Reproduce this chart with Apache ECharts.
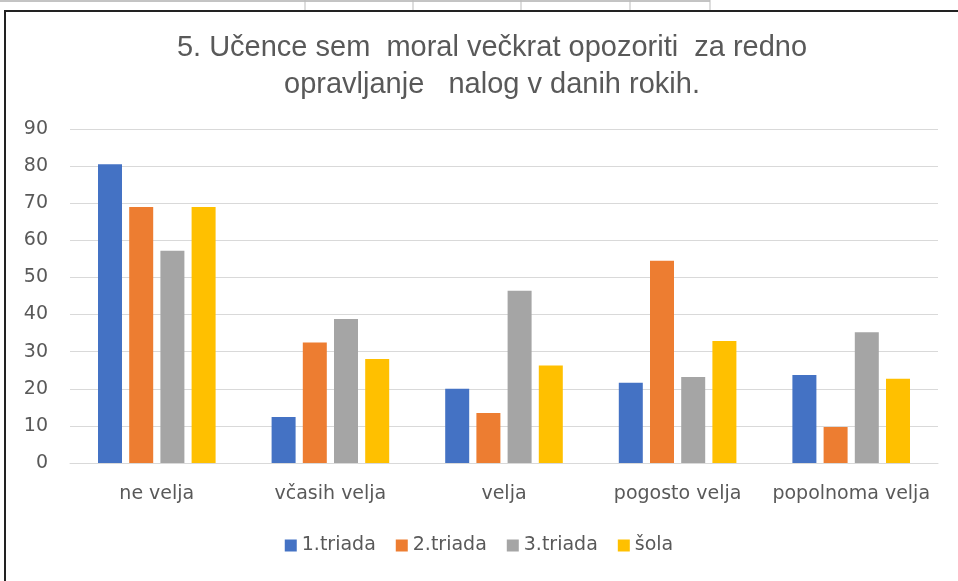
<!DOCTYPE html>
<html>
<head>
<meta charset="utf-8">
<script src="https://cdn.jsdelivr.net/npm/echarts@6/dist/echarts.min.js"></script>
<style>
  html, body { margin: 0; padding: 0; background: #fff; }
  #main { width: 958px; height: 581px; }
</style>
</head>
<body>
<div id="main"></div>
<script>
var categories = ['ne velja', 'včasih velja', 'velja', 'pogosto velja', 'popolnoma velja'];
var seriesNames = ['1.triada', '2.triada', '3.triada', 'šola'];
var triada1 = [80.5, 12.4, 20.0, 21.6, 23.7];
var triada2 = [69.0, 32.5, 13.5, 54.5, 9.7];
var triada3 = [57.2, 38.8, 46.4, 23.2, 35.2];
var sola = [69.0, 28.0, 26.3, 32.9, 22.7];
var colors = ['#4472C4', '#ED7D31', '#A5A5A5', '#FFC000'];

var titleFont = '"Liberation Sans", Arial, sans-serif';
var font = '"DejaVu Sans", Verdana, sans-serif';
var myChart = echarts.init(document.getElementById('main'));

var allData = [triada1, triada2, triada3, sola];
var series = [];
for (var i = 0; i < seriesNames.length; i++) {
  series.push({
    name: seriesNames[i],
    type: 'bar',
    data: allData[i],
    barWidth: 24,
    barGap: '30%',
    itemStyle: { color: colors[i] }
  });
}

var option = {
  animation: false,
  backgroundColor: '#fff',
  title: {
    text: '5. Učence sem  moral večkrat opozoriti  za redno\nopravljanje   nalog v danih rokih.',
    left: 487,
    textAlign: 'center',
    top: 24,
    textStyle: {
      fontFamily: titleFont,
      fontWeight: 'normal',
      fontSize: 29,
      lineHeight: 37,
      color: '#595959'
    }
  },
  legend: {
    bottom: 21,
    left: 'center',
    itemWidth: 12,
    itemHeight: 12,
    itemGap: 20,
    icon: 'rect',
    textStyle: { fontFamily: font, fontSize: 19, color: '#595959' }
  },
  grid: { left: 70, right: 20, top: 129, bottom: 118 },
  xAxis: {
    type: 'category',
    data: categories,
    axisTick: { show: false },
    axisLine: { lineStyle: { color: '#d9d9d9', width: 1 } },
    axisLabel: { interval: 0, margin: 22, fontFamily: font, fontSize: 19, color: '#595959' }
  },
  yAxis: {
    type: 'value',
    min: 0,
    max: 90,
    interval: 10,
    axisLine: { show: false },
    axisTick: { show: false },
    splitLine: { lineStyle: { color: '#d9d9d9', width: 1 } },
    axisLabel: { margin: 22, fontFamily: font, fontSize: 19, color: '#595959' }
  },
  graphic: [
    // bits of the spreadsheet above the chart
    { type: 'line', shape: { x1: 0, y1: 1, x2: 710, y2: 1 }, style: { stroke: '#888', lineWidth: 1 } },
    { type: 'line', shape: { x1: 305, y1: 0, x2: 305, y2: 10 }, style: { stroke: '#bbb', lineWidth: 1 } },
    { type: 'line', shape: { x1: 413, y1: 0, x2: 413, y2: 10 }, style: { stroke: '#bbb', lineWidth: 1 } },
    { type: 'line', shape: { x1: 521, y1: 0, x2: 521, y2: 10 }, style: { stroke: '#bbb', lineWidth: 1 } },
    { type: 'line', shape: { x1: 630, y1: 0, x2: 630, y2: 10 }, style: { stroke: '#bbb', lineWidth: 1 } },
    { type: 'line', shape: { x1: 710, y1: 0, x2: 710, y2: 10 }, style: { stroke: '#bbb', lineWidth: 1 } },
    // chart frame
    { type: 'rect', shape: { x: 5, y: 11, width: 1000, height: 620 }, style: { fill: 'none', stroke: '#222', lineWidth: 2 } }
  ],
  series: series
};

myChart.setOption(option);
window.onresize = function () {
  myChart.resize();
};
</script>
</body>
</html>
